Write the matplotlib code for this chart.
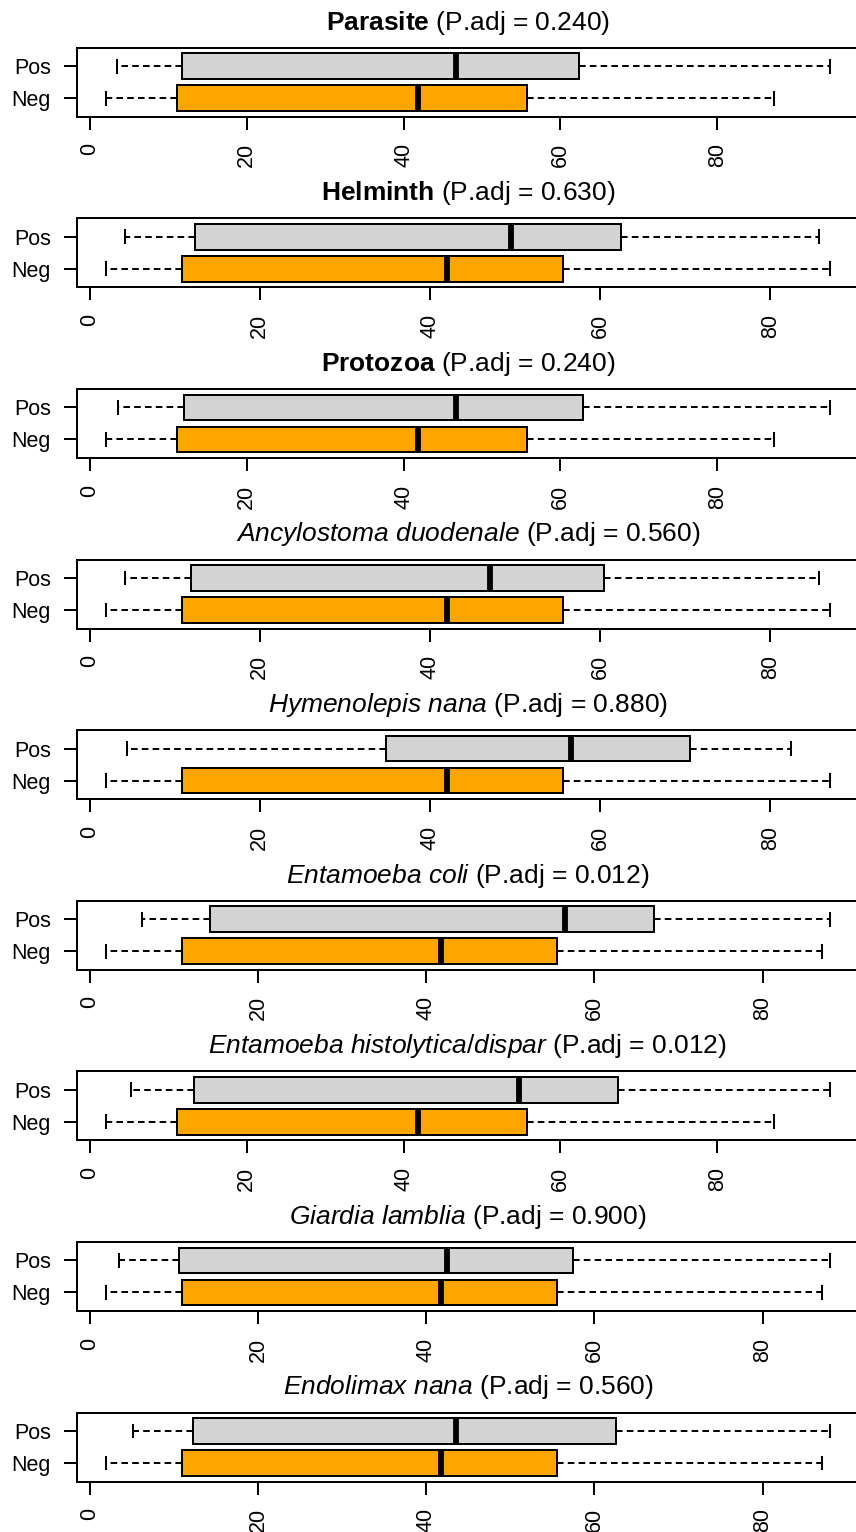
import numpy as np
import matplotlib
matplotlib.use("Agg")
import matplotlib.pyplot as plt
from matplotlib.ticker import MultipleLocator

plt.rcParams['font.family'] = ['Liberation Sans', 'DejaVu Sans']
plt.rcParams['mathtext.fontset'] = 'custom'
plt.rcParams['mathtext.rm'] = 'Liberation Sans'
plt.rcParams['mathtext.it'] = 'Liberation Sans:italic'
plt.rcParams['mathtext.bf'] = 'Liberation Sans:bold'

# panel titles (name part is bold for groups, italic for species)
names = ["Parasite", "Helminth", "Protozoa", "Ancylostoma duodenale",
         "Hymenolepis nana", "Entamoeba coli", "Entamoeba histolytica/dispar",
         "Giardia lamblia", "Endolimax nana"]
name_style = ["bf", "bf", "bf", "it", "it", "it", "it", "it", "it"]
p_adj = ["0.240", "0.630", "0.240", "0.560", "0.880", "0.012", "0.012", "0.900", "0.560"]

group_labels = ["Neg", "Pos"]

# box statistics, Pos group
pos_whislo = [3.5, 4.2, 3.6, 4.2, 4.4, 6.2, 5.2, 3.5, 5.1]
pos_q1 = [11.8, 12.4, 12.0, 11.9, 34.8, 14.3, 13.3, 10.6, 12.3]
pos_med = [46.7, 49.5, 46.7, 47.1, 56.6, 56.5, 54.7, 42.5, 43.6]
pos_q3 = [62.4, 62.5, 62.9, 60.4, 70.6, 67.1, 67.3, 57.5, 62.6]
pos_whishi = [94.4, 85.7, 94.4, 85.7, 82.4, 88.0, 94.4, 88.0, 88.0]

# Neg group
neg_whislo = [2.0, 1.9, 2.0, 1.9, 1.9, 1.9, 2.0, 1.9, 1.9]
neg_q1 = [11.1, 10.9, 11.1, 10.9, 10.9, 11.0, 11.1, 11.0, 11.0]
neg_med = [41.9, 42.0, 41.9, 42.0, 42.0, 41.8, 41.9, 41.8, 41.8]
neg_q3 = [55.7, 55.6, 55.7, 55.6, 55.6, 55.5, 55.7, 55.5, 55.5]
neg_whishi = [87.2, 87.0, 87.2, 87.0, 87.0, 87.0, 87.2, 87.0, 87.0]

W, H = 856, 1532
fig = plt.figure(figsize=(W / 100, H / 100), dpi=100)

LW = 1.44
left_px, right_px = 76.7, 859.0
pitch, top0, frame_h = 170.6, 47.7, 69.0

for i in range(len(names)):
    top = top0 + i * pitch
    ax = fig.add_axes([left_px / W, 1 - (top + frame_h) / H,
                       (right_px - left_px) / W, frame_h / H])

    stats = [
        dict(whislo=neg_whislo[i], q1=neg_q1[i], med=neg_med[i],
             q3=neg_q3[i], whishi=neg_whishi[i], fliers=[]),
        dict(whislo=pos_whislo[i], q1=pos_q1[i], med=pos_med[i],
             q3=pos_q3[i], whishi=pos_whishi[i], fliers=[]),
    ]
    res = ax.bxp(stats, positions=[1, 2], widths=0.8, capwidths=0.4,
                 vert=False, patch_artist=True, showfliers=False,
                 boxprops=dict(edgecolor='black', linewidth=LW),
                 whiskerprops=dict(color='black', linewidth=LW, linestyle=(0, (3.3, 2.1))),
                 capprops=dict(color='black', linewidth=LW),
                 medianprops=dict(color='black', linewidth=4.2, solid_capstyle='butt'))
    for patch, col in zip(res['boxes'], ['#FFA500', '#D3D3D3']):
        patch.set_facecolor(col)

    lo = min(pos_whislo[i], neg_whislo[i])
    hi = max(pos_whishi[i], neg_whishi[i])
    pad = 0.04 * (hi - lo)
    ax.set_xlim(lo - pad, hi + pad)
    ax.set_ylim(0.42, 2.58)

    ax.xaxis.set_major_locator(MultipleLocator(20))
    ax.set_yticks([1, 2])
    ax.set_yticklabels(group_labels)
    ax.tick_params(axis='x', labelsize=15.5, length=9.6, width=LW, pad=9.6,
                   labelrotation=90)
    ax.tick_params(axis='y', labelsize=15.5, length=9.6, width=LW, pad=8.9)
    for sp in ax.spines.values():
        sp.set_linewidth(LW)

    nm = names[i].replace(" ", r"\ ")
    title = r"$\math%s{%s}$ (P.adj = %s)" % (name_style[i], nm, p_adj[i])
    ax.set_title(title, fontsize=19, pad=13)

fig.savefig("out.png", dpi=100)
